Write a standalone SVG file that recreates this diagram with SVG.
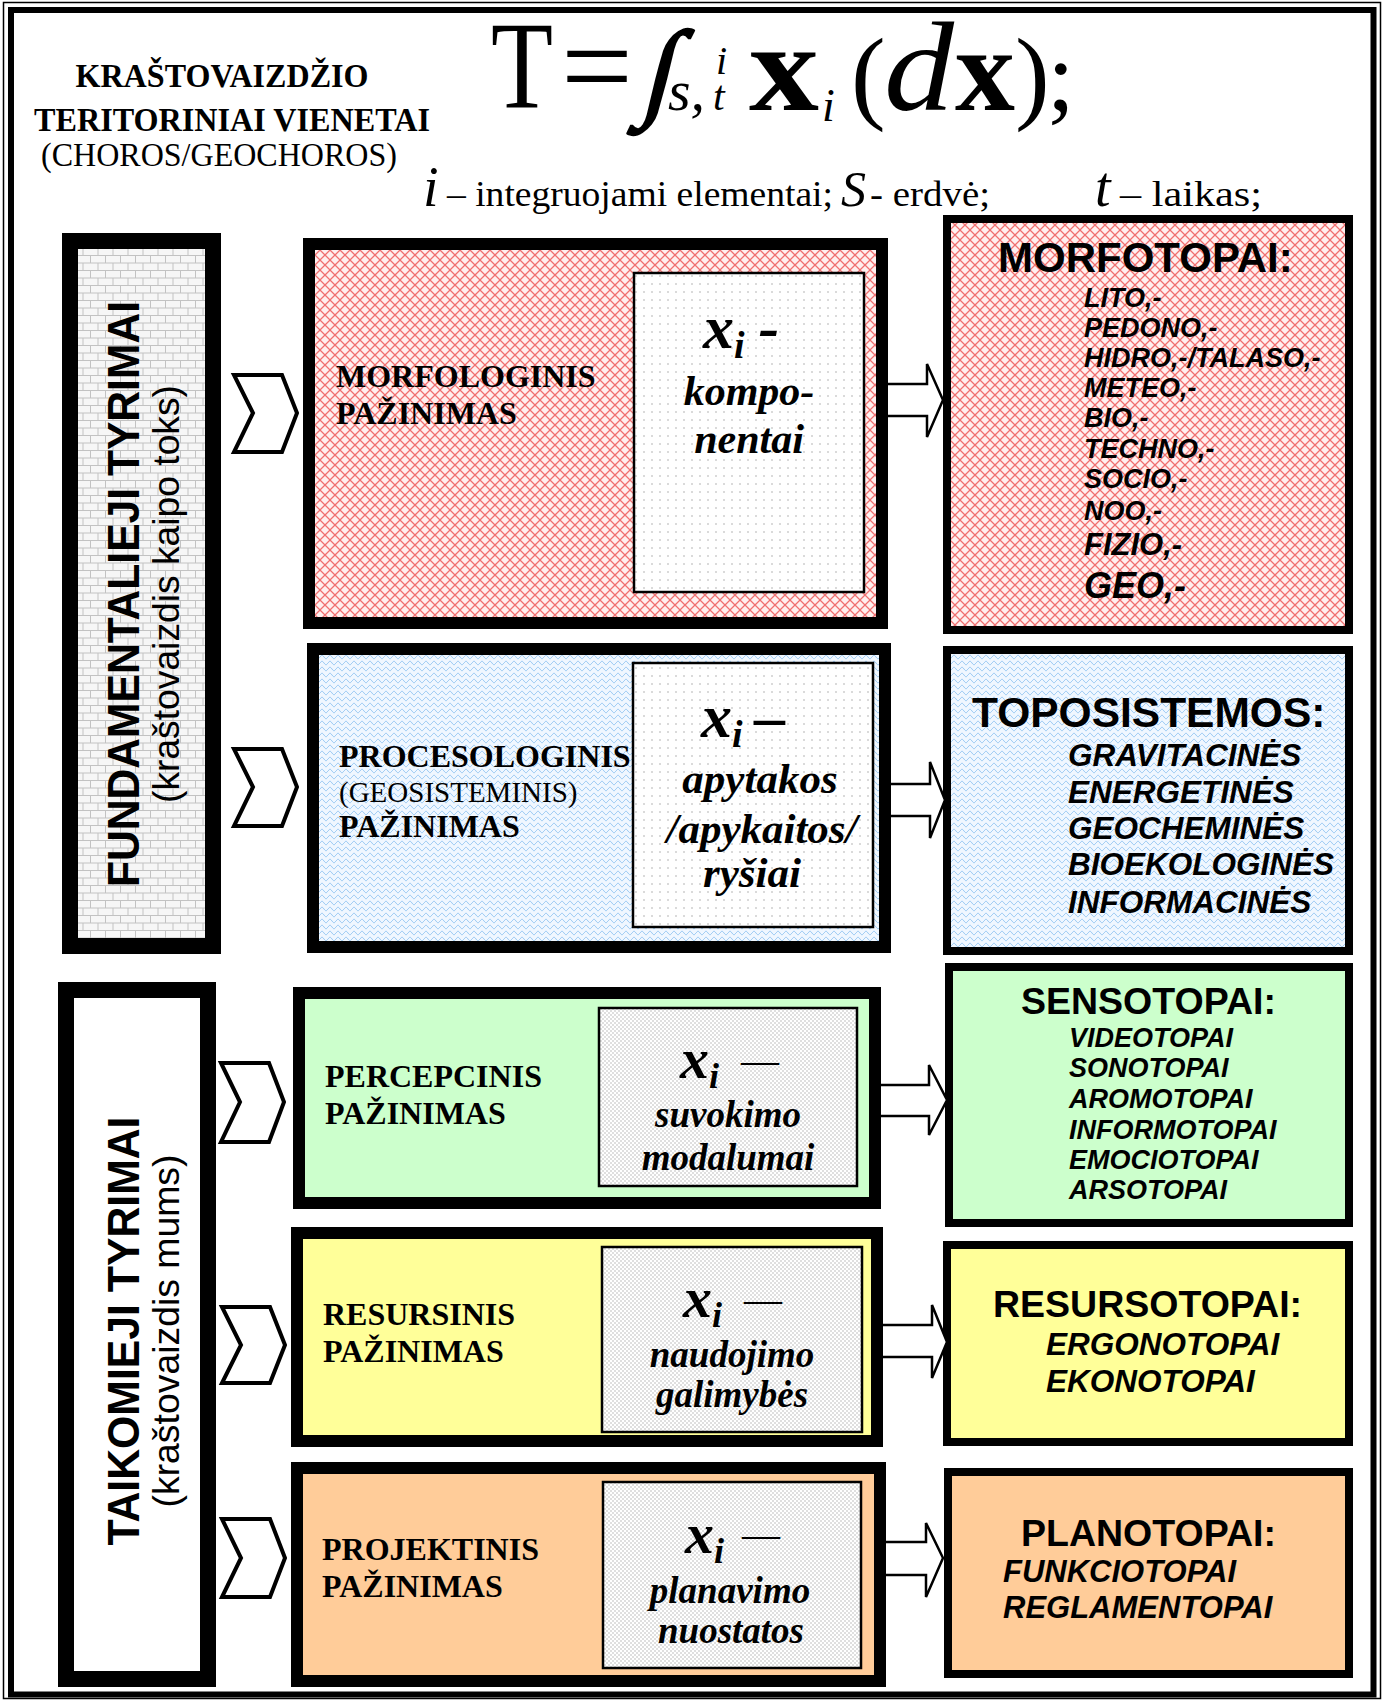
<svg xmlns="http://www.w3.org/2000/svg" width="1385" height="1701" viewBox="0 0 1385 1701">
  <style>
    .serif { font-family: "Liberation Serif", "Times New Roman", serif; }
    .sans { font-family: "Liberation Sans", Arial, sans-serif; }
    .b { font-weight: bold; }
    .i { font-style: italic; }
    .lbl { font-family: "Liberation Serif", "Times New Roman", serif; font-weight: bold; font-size: 32px; }
    .xi { font-family: "Liberation Serif", "Times New Roman", serif; font-weight: bold; font-style: italic; }
    .head { font-family: "Liberation Sans", Arial, sans-serif; font-weight: bold; }
    .item { font-family: "Liberation Sans", Arial, sans-serif; font-weight: bold; font-style: italic; }
    .mid { stroke: #000; stroke-width: 12; }
    .side { stroke: #000; stroke-width: 16; }
    .res { stroke: #000; stroke-width: 8; }
    .inner { stroke: #000; stroke-width: 2.5; }
    .chev { fill: #fff; stroke: #000; stroke-width: 4; stroke-linejoin: miter; }
    .blk { fill: #fff; stroke: #000; stroke-width: 2.5; stroke-linejoin: miter; }
  </style>
  <defs>
    <pattern id="pinkHatch" width="10" height="10" patternUnits="userSpaceOnUse">
      <rect width="10" height="10" fill="#fff0f0"/>
      <path d="M0,0 L10,10 M10,0 L0,10" stroke="#f07070" stroke-width="1.25" fill="none"/>
    </pattern>
    <pattern id="blueWave" width="8" height="6" patternUnits="userSpaceOnUse">
      <rect width="8" height="6" fill="#f0f7ff"/>
      <path d="M0,3 C2,0.6 2,0.6 4,3 C6,5.4 6,5.4 8,3" stroke="#8ec3f2" stroke-width="1" fill="none"/>
    </pattern>
    <pattern id="brick" width="15" height="15" patternUnits="userSpaceOnUse">
      <rect width="15" height="15" fill="#f6f6f6"/>
      <path d="M0,0.5 H15 M0,8 H15 M0.5,0.5 V8 M8,8 V15" stroke="#c2c2c2" stroke-width="1" fill="none"/>
    </pattern>
    <pattern id="dotsSparse" width="8" height="8" patternUnits="userSpaceOnUse">
      <rect width="8" height="8" fill="#fff"/>
      <circle cx="4" cy="4" r="0.7" fill="#9a9a9a"/>
    </pattern>
    <pattern id="dotsDense" width="4" height="4" patternUnits="userSpaceOnUse">
      <rect width="4" height="4" fill="#fff"/>
      <circle cx="1" cy="1" r="0.7" fill="#a8a8a8"/>
      <circle cx="3" cy="3" r="0.7" fill="#a8a8a8"/>
    </pattern>
  </defs>

  <rect width="1385" height="1701" fill="#fff"/>

  <!-- double page frame -->
  <g id="frame" fill="none" stroke="#000">
    <rect x="3.5" y="2.5" width="1377" height="1696" stroke-width="1.5"/>
    <rect x="11" y="10" width="1362.5" height="1684.5" stroke-width="6"/>
  </g>

  <!-- heading block -->
  <g id="title" class="serif" text-anchor="middle" fill="#000">
    <text x="222" y="87" class="b" font-size="33" textLength="293" lengthAdjust="spacingAndGlyphs">KRAŠTOVAIZDŽIO</text>
    <text x="232" y="131" class="b" font-size="33" textLength="396" lengthAdjust="spacingAndGlyphs">TERITORINIAI VIENETAI</text>
    <text x="219" y="166" font-size="33" textLength="356" lengthAdjust="spacingAndGlyphs">(CHOROS/GEOCHOROS)</text>
  </g>

  <!-- integral formula, set glyph by glyph -->
  <g id="formula" class="serif" fill="#000">
    <text x="491" y="108" font-size="124" textLength="62" lengthAdjust="spacingAndGlyphs">T</text>
    <text x="561" y="108" font-size="124" textLength="72" lengthAdjust="spacingAndGlyphs">=</text>
    <text transform="translate(640,106) skewX(-14)" font-size="108" stroke="#000" stroke-width="2.5">∫</text>
    <text x="668" y="110" font-size="58" class="i">s,</text>
    <text x="716" y="74" font-size="40" class="i">i</text>
    <text x="713" y="110" font-size="42" class="i">t</text>
    <text x="749" y="110" font-size="124" class="b" textLength="70" lengthAdjust="spacingAndGlyphs">x</text>
    <text x="822" y="121" font-size="46" class="i">i</text>
    <text x="851" y="110" font-size="104">(</text>
    <text x="884" y="110" font-size="128" class="i" textLength="70" lengthAdjust="spacingAndGlyphs">d</text>
    <text x="955" y="110" font-size="118" class="b" textLength="60" lengthAdjust="spacingAndGlyphs">x</text>
    <text x="1015" y="110" font-size="104">)</text>
    <text x="1047" y="110" font-size="100">;</text>
  </g>

  <!-- legend line -->
  <g id="legend" class="serif" fill="#000">
    <text x="423" y="206" font-size="56" class="i">i</text>
    <text x="447" y="206" font-size="36" textLength="386" lengthAdjust="spacingAndGlyphs">– integruojami elementai;</text>
    <text x="841" y="206" font-size="50" class="i">S</text>
    <text x="870" y="206" font-size="36" textLength="120" lengthAdjust="spacingAndGlyphs">- erdvė;</text>
    <text x="1095" y="206" font-size="56" class="i">t</text>
    <text x="1120" y="206" font-size="36" textLength="142" lengthAdjust="spacingAndGlyphs">– laikas;</text>
  </g>

  <!-- left column: research groups -->
  <g id="fundamentalieji">
    <rect x="70" y="241" width="143" height="705" fill="url(#brick)" class="side"/>
    <text transform="translate(139,594) rotate(-90)" text-anchor="middle" class="head" font-size="44" textLength="586" lengthAdjust="spacingAndGlyphs">FUNDAMENTALIEJI TYRIMAI</text>
    <text transform="translate(179,594) rotate(-90)" text-anchor="middle" class="sans" font-size="37" textLength="418" lengthAdjust="spacingAndGlyphs">(kraštovaizdis kaipo toks)</text>
  </g>
  <g id="taikomieji">
    <rect x="66" y="990" width="142" height="689" fill="#fff" class="side"/>
    <text transform="translate(139,1331) rotate(-90)" text-anchor="middle" class="head" font-size="44" textLength="429" lengthAdjust="spacingAndGlyphs">TAIKOMIEJI TYRIMAI</text>
    <text transform="translate(179,1331) rotate(-90)" text-anchor="middle" class="sans" font-size="37" textLength="353" lengthAdjust="spacingAndGlyphs">(kraštovaizdis mums)</text>
  </g>

  <!-- middle column: kinds of cognition -->
  <g id="morfologinis">
    <rect x="309" y="244" width="573" height="379" fill="url(#pinkHatch)" class="mid"/>
    <text x="336" y="387" class="lbl">MORFOLOGINIS</text>
    <text x="336" y="424" class="lbl">PAŽINIMAS</text>
    <rect x="634" y="273" width="230" height="319" fill="url(#dotsSparse)" class="inner"/>
    <text x="703" y="348" class="xi" font-size="62">x<tspan font-size="38" dy="10">i</tspan><tspan dy="-10" dx="14">-</tspan></text>
    <text x="749" y="405" class="xi" font-size="42" text-anchor="middle">kompo-</text>
    <text x="749" y="453" class="xi" font-size="42" text-anchor="middle">nentai</text>
  </g>
  <g id="procesologinis">
    <rect x="313" y="649" width="572" height="298" fill="url(#blueWave)" class="mid"/>
    <text x="339" y="767" class="lbl">PROCESOLOGINIS</text>
    <text x="339" y="802" class="serif" font-size="29">(GEOSISTEMINIS)</text>
    <text x="339" y="837" class="lbl">PAŽINIMAS</text>
    <rect x="633" y="663" width="240" height="264" fill="url(#dotsSparse)" class="inner"/>
    <text x="701" y="737" class="xi" font-size="62">x<tspan font-size="38" dy="10">i</tspan><tspan dy="-10" dx="12">–</tspan></text>
    <text x="760" y="793" class="xi" font-size="43" text-anchor="middle">apytakos</text>
    <text x="762" y="843" class="xi" font-size="43" text-anchor="middle">/apykaitos/</text>
    <text x="752" y="887" class="xi" font-size="43" text-anchor="middle">ryšiai</text>
  </g>
  <g id="percepcinis">
    <rect x="299" y="993" width="576" height="210" fill="#ccffcc" class="mid"/>
    <text x="325" y="1087" class="lbl">PERCEPCINIS</text>
    <text x="325" y="1124" class="lbl">PAŽINIMAS</text>
    <rect x="599" y="1008" width="258" height="178" fill="url(#dotsDense)" class="inner"/>
    <text x="680" y="1078" class="xi" font-size="58">x<tspan font-size="36" dy="10">i</tspan></text>
    <text x="741" y="1073" class="serif" font-size="38">—</text>
    <text x="728" y="1127" class="xi" font-size="37" text-anchor="middle">suvokimo</text>
    <text x="728" y="1170" class="xi" font-size="37" text-anchor="middle">modalumai</text>
  </g>
  <g id="resursinis">
    <rect x="297" y="1233" width="580" height="208" fill="#ffff99" class="mid"/>
    <text x="323" y="1325" class="lbl">RESURSINIS</text>
    <text x="323" y="1362" class="lbl">PAŽINIMAS</text>
    <rect x="602" y="1247" width="260" height="185" fill="url(#dotsDense)" class="inner"/>
    <text x="683" y="1317" class="xi" font-size="58">x<tspan font-size="36" dy="10">i</tspan></text>
    <text x="744" y="1312" class="serif" font-size="38">—</text>
    <text x="732" y="1367" class="xi" font-size="37" text-anchor="middle">naudojimo</text>
    <text x="732" y="1407" class="xi" font-size="37" text-anchor="middle">galimybės</text>
  </g>
  <g id="projektinis">
    <rect x="297" y="1468" width="583" height="213" fill="#ffcc99" class="mid"/>
    <text x="322" y="1560" class="lbl">PROJEKTINIS</text>
    <text x="322" y="1597" class="lbl">PAŽINIMAS</text>
    <rect x="603" y="1482" width="258" height="186" fill="url(#dotsDense)" class="inner"/>
    <text x="685" y="1553" class="xi" font-size="58">x<tspan font-size="36" dy="10">i</tspan></text>
    <text x="742" y="1547" class="serif" font-size="38">—</text>
    <text x="730" y="1603" class="xi" font-size="37" text-anchor="middle">planavimo</text>
    <text x="731" y="1643" class="xi" font-size="37" text-anchor="middle">nuostatos</text>
  </g>

  <!-- right column: resulting territorial units -->
  <g id="morfotopai">
    <rect x="947" y="219" width="402" height="411" fill="url(#pinkHatch)" class="res"/>
    <text x="998" y="272" class="head" font-size="42">MORFOTOPAI:</text>
    <g class="item" font-size="27">
      <text x="1084" y="307">LITO,-</text>
      <text x="1084" y="337">PEDONO,-</text>
      <text x="1084" y="367">HIDRO,-/TALASO,-</text>
      <text x="1084" y="397">METEO,-</text>
      <text x="1084" y="427">BIO,-</text>
      <text x="1084" y="458">TECHNO,-</text>
      <text x="1084" y="488">SOCIO,-</text>
      <text x="1084" y="520">NOO,-</text>
      <text x="1084" y="555" font-size="31">FIZIO,-</text>
      <text x="1084" y="598" font-size="36">GEO,-</text>
    </g>
  </g>
  <g id="toposistemos">
    <rect x="947" y="650" width="402" height="301" fill="url(#blueWave)" class="res"/>
    <text x="972" y="727" class="head" font-size="42.5">TOPOSISTEMOS:</text>
    <g class="item" font-size="31.5">
      <text x="1068" y="766">GRAVITACINĖS</text>
      <text x="1068" y="803">ENERGETINĖS</text>
      <text x="1068" y="839">GEOCHEMINĖS</text>
      <text x="1068" y="875">BIOEKOLOGINĖS</text>
      <text x="1068" y="913">INFORMACINĖS</text>
    </g>
  </g>
  <g id="sensotopai">
    <rect x="949" y="967" width="400" height="256" fill="#ccffcc" class="res"/>
    <text x="1021" y="1014" class="head" font-size="37.5">SENSOTOPAI:</text>
    <g class="item" font-size="27">
      <text x="1069" y="1047">VIDEOTOPAI</text>
      <text x="1069" y="1077">SONOTOPAI</text>
      <text x="1069" y="1108">AROMOTOPAI</text>
      <text x="1069" y="1139">INFORMOTOPAI</text>
      <text x="1069" y="1169">EMOCIOTOPAI</text>
      <text x="1069" y="1199">ARSOTOPAI</text>
    </g>
  </g>
  <g id="resursotopai">
    <rect x="947" y="1245" width="402" height="197" fill="#ffff99" class="res"/>
    <text x="993" y="1317" class="head" font-size="37.5">RESURSOTOPAI:</text>
    <g class="item" font-size="31.5">
      <text x="1046" y="1355">ERGONOTOPAI</text>
      <text x="1046" y="1392">EKONOTOPAI</text>
    </g>
  </g>
  <g id="planotopai">
    <rect x="948" y="1472" width="401" height="202" fill="#ffcc99" class="res"/>
    <text x="1021" y="1546" class="head" font-size="37.5">PLANOTOPAI:</text>
    <g class="item" font-size="31">
      <text x="1003" y="1582">FUNKCIOTOPAI</text>
      <text x="1003" y="1618">REGLAMENTOPAI</text>
    </g>
  </g>

  <!-- connectors: chevrons into each cognition box, block arrows out to the units -->
  <g id="connectors">
    <path class="chev" d="M234,375 H282 L297,413 L282,452 H234 L253,413 Z"/>
    <path class="chev" d="M234,749 H282 L297,787 L282,826 H234 L253,787 Z"/>
    <path class="chev" d="M221,1063 H269 L284,1102 L269,1142 H221 L240,1102 Z"/>
    <path class="chev" d="M222,1307 H270 L285,1345 L270,1383 H222 L241,1345 Z"/>
    <path class="chev" d="M222,1519 H270 L285,1558 L270,1597 H222 L241,1558 Z"/>
    <path class="blk" d="M888,384 H927 V364 L943,400 L927,437 V416 H888"/>
    <path class="blk" d="M891,784 H930 V762 L945,800 L930,838 V816 H891"/>
    <path class="blk" d="M881,1085 H929 V1065 L947,1100 L929,1135 V1116 H881"/>
    <path class="blk" d="M883,1325 H932 V1305 L947,1342 L932,1378 V1357 H883"/>
    <path class="blk" d="M886,1542 H926 V1523 L943,1558 L926,1597 V1575 H886"/>
  </g>
</svg>
